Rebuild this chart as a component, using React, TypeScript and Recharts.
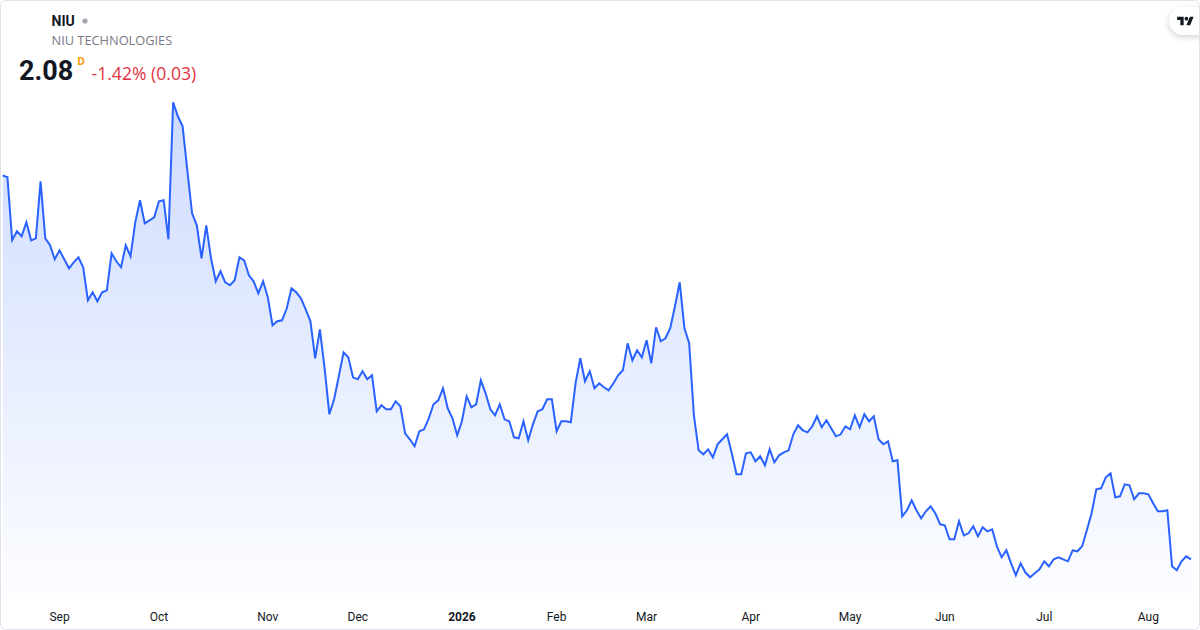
import { Area, AreaChart, XAxis, YAxis } from 'recharts';

// daily closes, mid Aug 2025 -> mid Aug 2026
const prices = [
  5.92, 5.9, 5.27, 5.36, 5.31, 5.45, 5.27, 5.29, 5.86, 5.29,
  5.22, 5.08, 5.17, 5.08, 4.99, 5.05, 5.1, 5.0, 4.67, 4.75,
  4.66, 4.75, 4.77, 5.14, 5.06, 5.0, 5.22, 5.11, 5.45, 5.67,
  5.44, 5.47, 5.5, 5.66, 5.67, 5.28, 6.65, 6.51, 6.41, 5.97,
  5.54, 5.42, 5.09, 5.42, 5.09, 4.86, 4.96, 4.85, 4.82, 4.87,
  5.1, 5.07, 4.92, 4.86, 4.74, 4.86, 4.7, 4.42, 4.46, 4.47,
  4.59, 4.79, 4.75, 4.69, 4.58, 4.46, 4.09, 4.38, 3.99, 3.53,
  3.68, 3.91, 4.15, 4.1, 3.9, 3.88, 3.96, 3.88, 3.92, 3.56,
  3.62, 3.58, 3.58, 3.66, 3.61, 3.34, 3.28, 3.21, 3.36, 3.38,
  3.49, 3.63, 3.67, 3.79, 3.59, 3.49, 3.32, 3.46, 3.71, 3.6,
  3.63, 3.87, 3.74, 3.58, 3.52, 3.63, 3.48, 3.46, 3.3, 3.29,
  3.46, 3.27, 3.43, 3.56, 3.58, 3.68, 3.68, 3.36, 3.46, 3.46,
  3.45, 3.84, 4.09, 3.86, 3.96, 3.79, 3.84, 3.8, 3.77, 3.84,
  3.92, 3.97, 4.24, 4.07, 4.17, 4.1, 4.27, 4.04, 4.4, 4.26,
  4.29, 4.39, 4.61, 4.85, 4.39, 4.24, 3.52, 3.17, 3.13, 3.18,
  3.1, 3.23, 3.28, 3.33, 3.14, 2.93, 2.93, 3.14, 3.15, 3.06,
  3.11, 3.02, 3.18, 3.05, 3.12, 3.15, 3.17, 3.33, 3.42, 3.37,
  3.35, 3.41, 3.51, 3.4, 3.47, 3.39, 3.31, 3.33, 3.41, 3.38,
  3.52, 3.4, 3.53, 3.46, 3.51, 3.28, 3.23, 3.26, 3.06, 3.07,
  2.51, 2.57, 2.67, 2.57, 2.49, 2.56, 2.61, 2.54, 2.43, 2.42,
  2.28, 2.28, 2.46, 2.32, 2.34, 2.41, 2.31, 2.4, 2.36, 2.38,
  2.21, 2.1, 2.17, 2.04, 1.92, 2.04, 1.95, 1.9, 1.94, 1.98,
  2.06, 2.01, 2.08, 2.1, 2.08, 2.06, 2.17, 2.16, 2.21, 2.37,
  2.54, 2.78, 2.79, 2.9, 2.94, 2.7, 2.71, 2.83, 2.82, 2.68,
  2.74, 2.74, 2.73, 2.64, 2.56, 2.56, 2.57, 2.01, 1.97, 2.06,
  2.11, 2.08,
];

// index of first trading day of each month
const tickIndex = [12, 33, 56, 75, 97, 117, 136, 158, 179, 199, 220, 242];
const tickLabels = ['Sep', 'Oct', 'Nov', 'Dec', '2026', 'Feb', 'Mar', 'Apr', 'May', 'Jun', 'Jul', 'Aug'];

const data = prices.map((p, i) => ({ i, p }));

const FONT = 'Roboto, "Noto Sans", sans-serif';
const WIDE = '"Open Sans", Roboto, sans-serif';

function MonthTick(props: any) {
  const { x, y, payload } = props;
  const k = tickIndex.indexOf(payload.value);
  const label = tickLabels[k] ?? '';
  return (
    <text
      x={x}
      y={y + 15}
      textAnchor="middle"
      fontSize={12}
      fontFamily={FONT}
      fontWeight={label === '2026' ? 700 : 400}
      fill="#131722"
    >
      {label}
    </text>
  );
}

export default function App() {
  return (
    <div
      style={{
        position: 'fixed',
        left: 0,
        top: 0,
        width: 1200,
        height: 630,
        boxSizing: 'border-box',
        border: '1px solid #e0e3eb',
        borderRadius: 6,
        background: '#fff',
        overflow: 'hidden',
        fontFamily: FONT,
      }}
    >
      <div style={{ position: 'absolute', left: -1, top: -1 }}>
        <AreaChart width={1200} height={630} data={data} margin={{ top: 100, right: 9, bottom: 0, left: 2.7 }}>
          <defs>
            <linearGradient id="niuFill" x1="0" y1="0" x2="0" y2="1">
              <stop offset="0%" stopColor="#2962FF" stopOpacity={0.38} />
              <stop offset="100%" stopColor="#2962FF" stopOpacity={0.02} />
            </linearGradient>
          </defs>
          <XAxis
            dataKey="i"
            type="number"
            domain={[0, prices.length - 1]}
            ticks={tickIndex}
            interval={0}
            axisLine={false}
            tickLine={false}
            tickMargin={0}
            height={30}
            tick={<MonthTick />}
          />
          <YAxis hide domain={[1.673, 6.673]} allowDataOverflow />
          <Area
            type="linear"
            dataKey="p"
            stroke="#2962FF"
            strokeWidth={2}
            fill="url(#niuFill)"
            dot={false}
            activeDot={false}
            isAnimationActive={false}
          />
        </AreaChart>
      </div>

      <svg width={260} height={95} style={{ position: 'absolute', left: -1, top: -1 }}>
        <text x={51.5} y={26} fontSize={14} fontWeight={700} fill="#131722" fontFamily={FONT}>
          NIU
        </text>
        <circle cx={85} cy={21} r={2.6} fill="#a3a6af" />
        <text x={51.5} y={45} fontSize={12.8} fill="#787b86" fontFamily={WIDE}>
          NIU TECHNOLOGIES
        </text>
        <text x={19} y={80} fontSize={27} fontWeight={700} fill="#131722" fontFamily={FONT}>
          2.08
        </text>
        <text x={77.5} y={65} fontSize={11} fontWeight={700} fill="#ff9800" fontFamily={FONT}>
          D
        </text>
        <text x={91.5} y={80} fontSize={17.6} fill="#e03444" fontFamily={WIDE}>
          -1.42% (0.03)
        </text>
      </svg>

      <div
        style={{
          position: 'absolute',
          left: 1168,
          top: 6,
          width: 50,
          height: 28,
          borderRadius: 14,
          background: '#fff',
          boxShadow: '0 2px 6px rgba(0,0,0,0.18)',
        }}
      >
        <svg width={17} height={13} viewBox="0 0 36 28" style={{ position: 'absolute', left: 8, top: 8 }}>
          <path d="M14 22H7V11H0V4h14v18zM28 22h-8l7.5-18h8L28 22z" fill="#131722" />
          <circle cx={20} cy={8} r={4} fill="#131722" />
        </svg>
      </div>
    </div>
  );
}
